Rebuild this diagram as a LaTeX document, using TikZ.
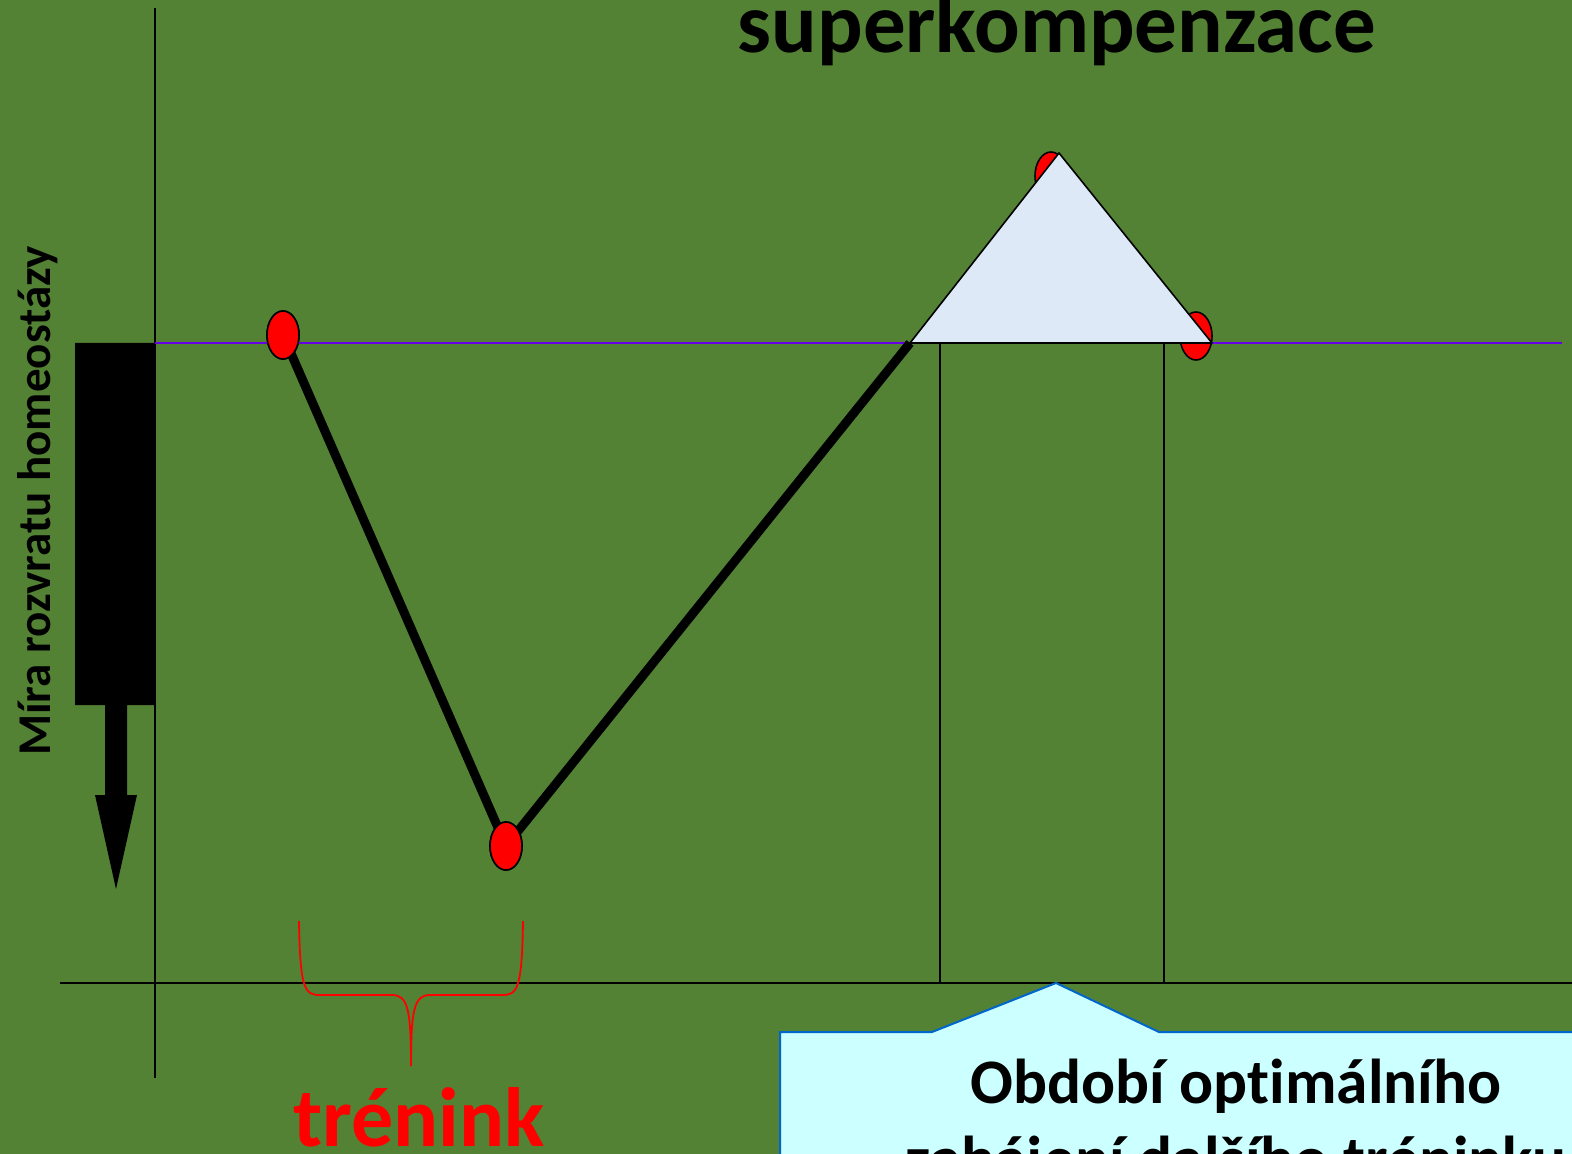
\documentclass[tikz,border=0pt]{standalone}
\usepackage{fontspec}
\setmainfont{Carlito}[Ligatures=NoCommon]
\usetikzlibrary{shapes.geometric}
\definecolor{bggreen}{RGB}{84,130,53}
\definecolor{baseviolet}{RGB}{102,0,230}
\definecolor{tri}{RGB}{221,233,247}
\definecolor{callfill}{RGB}{204,255,255}
\definecolor{callline}{RGB}{0,102,204}
\definecolor{redfill}{RGB}{255,0,0}
\begin{document}
\begin{tikzpicture}[x=0.5pt,y=-0.5pt,
  dot/.style={ellipse,draw=black,line width=0.8pt,fill=redfill,minimum width=16pt,minimum height=24pt,inner sep=0pt},
  thinline/.style={draw=black,line width=0.75pt},
  thickline/.style={draw=black,line width=4.5pt},
  lbl/.style={font=\bfseries\fontsize{#1}{50}\selectfont}]
\useasboundingbox (0,0) rectangle (1572,1154);
\clip (0,0) rectangle (1572,1154);
\fill[bggreen] (0,0) rectangle (1572,1154);
% axes
\coordinate (ya) at (155,8);
\coordinate (yb) at (155,1078);
\coordinate (xa) at (60,983);
\coordinate (xb) at (1572,983);
\draw[thinline] (ya) -- (yb);
\draw[thinline] (xa) -- (xb);
% baseline
\coordinate (ba) at (155,343);
\coordinate (bb) at (1562,343);
\draw[baseviolet,line width=0.8pt] (ba) -- (bb);
% vertical lines of the window
\coordinate (v1a) at (940,343);
\coordinate (v1b) at (940,983);
\coordinate (v2a) at (1164,343);
\coordinate (v2b) at (1164,983);
\draw[thinline] (v1a) -- (v1b);
\draw[thinline] (v2a) -- (v2b);
% left arrow
\fill[black] (75,343) -- (155,343) -- (155,705) -- (127,705) -- (127,795) -- (137,795)
  -- (116,889) -- (95,795) -- (105,795) -- (105,705) -- (75,705) -- cycle;
% red points
\node[dot] (p1) at (283,335) {};
\node[dot] (p2) at (506,846) {};
\node[dot] (p4) at (1051,176) {};
\node[dot] (p5) at (1196,336) {};
\coordinate (p3) at (910,343);
\draw[thickline,line join=round] (p1.center) -- (p2.center) -- (p3);
\node[dot] at (p1) {};
\node[dot] at (p2) {};
% triangle
\coordinate (ta) at (910,343);
\coordinate (tb) at (1059,153);
\coordinate (tc) at (1212,343);
\filldraw[fill=tri,draw=black,line width=0.8pt,line join=round] (ta) -- (tb) -- (tc) -- cycle;
% brace
\coordinate (bl) at (299,921);
\coordinate (br) at (523,921);
\coordinate (btip) at (411,1066);
\draw[redfill,line width=0.9pt] (bl) .. controls (300,990) and (305,995) .. (320,995)
  -- (392,995) .. controls (408,995) and (411,1010) .. (btip);
\draw[redfill,line width=0.9pt] (br) .. controls (522,990) and (517,995) .. (502,995)
  -- (430,995) .. controls (414,995) and (411,1010) .. (btip);
\node[lbl=42,text=redfill,anchor=base] (tr) at (419,1146) {trénink};
% title
\node[lbl=42.5,anchor=base] (title) at (1057,53) {superkompenzace};
% y label
\node[lbl=23.5,rotate=90,anchor=base] (ylab) at (50,501) {Míra rozvratu homeostázy};
% callout
\coordinate (ctip) at (1056,983);
\filldraw[fill=callfill,draw=callline,line width=1pt,line join=miter]
  (780,1200) -- (780,1032) -- (932,1032) -- (ctip) -- (1159,1032) -- (1620,1032) -- (1620,1200) -- cycle;
\node[lbl=31.7,anchor=base] (c1) at (1236,1103) {Období opt\kern0pt{}imálního};
\node[lbl=31.7,anchor=base] (c2) at (1236,1180) {zahájení dalšího tréninku};
\end{tikzpicture}
\end{document}
